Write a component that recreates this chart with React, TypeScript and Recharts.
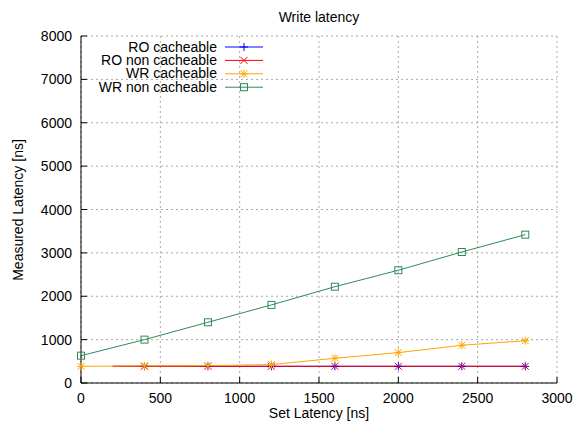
import { LineChart, Line, CartesianGrid, XAxis, YAxis, Legend } from 'recharts';

const xTicks = [0, 500, 1000, 1500, 2000, 2500, 3000];
const yTicks = [0, 1000, 2000, 3000, 4000, 5000, 6000, 7000, 8000];

const roLatency = [200, 400, 800, 1200, 1600, 2000, 2400, 2800];
const roCacheable = [385, 385, 385, 385, 385, 385, 385, 385];
const roNonCacheable = [385, 385, 385, 385, 385, 385, 385, 385];

const wrLatency = [0, 400, 800, 1200, 1600, 2000, 2400, 2800];
const wrCacheable = [385, 395, 400, 425, 570, 700, 870, 975];
const wrNonCacheable = [630, 1000, 1400, 1800, 2220, 2600, 3020, 3420];

const toPoints = (xs: number[], ys: number[]) => xs.map((x, i) => ({ x, y: ys[i] }));

const series = [
  { name: 'RO cacheable', color: '#0000ff', shape: 'plus', data: toPoints(roLatency, roCacheable) },
  { name: 'RO non cacheable', color: '#ff0000', shape: 'cross', data: toPoints(roLatency, roNonCacheable) },
  { name: 'WR cacheable', color: '#ffa500', shape: 'star', data: toPoints(wrLatency, wrCacheable) },
  { name: 'WR non cacheable', color: '#2e8b57', shape: 'square', data: toPoints(wrLatency, wrNonCacheable) }
];

const font = '"Liberation Sans", Arial, sans-serif';

function Marker({ shape, color, cx, cy }: any) {
  const r = 3.5;
  const plus = (
    <>
      <line x1={cx - r - 0.5} y1={cy} x2={cx + r + 0.5} y2={cy} stroke={color} />
      <line x1={cx} y1={cy - r - 0.5} x2={cx} y2={cy + r + 0.5} stroke={color} />
    </>
  );
  const cross = (
    <>
      <line x1={cx - r} y1={cy - r} x2={cx + r} y2={cy + r} stroke={color} />
      <line x1={cx - r} y1={cy + r} x2={cx + r} y2={cy - r} stroke={color} />
    </>
  );
  if (shape === 'plus') return <g>{plus}</g>;
  if (shape === 'cross') return <g>{cross}</g>;
  if (shape === 'star') return <g>{plus}{cross}</g>;
  return <rect x={cx - r} y={cy - r} width={r * 2} height={r * 2} fill="none" stroke={color} />;
}

const makeDot = (shape: string, color: string) => (props: any) => {
  const { cx, cy, payload, index } = props;
  // the first RO point (200) has no marker in the original
  if (payload.x % 400 !== 0) return <g key={index} />;
  return (
    <g key={index}>
      <Marker shape={shape} color={color} cx={cx} cy={cy} />
    </g>
  );
};

function BottomTick({ x, y, payload }: any) {
  return (
    <g>
      <line x1={x} y1={y} x2={x} y2={y - 6} stroke="#000" />
      <text x={x} y={y + 20} textAnchor="middle" fontSize={14} fontFamily={font} fill="#000">
        {payload.value}
      </text>
    </g>
  );
}

function TopTick({ x, y }: any) {
  return <line x1={x} y1={y} x2={x} y2={y + 6} stroke="#000" />;
}

function LeftTick({ x, y, payload }: any) {
  return (
    <g>
      <line x1={x} y1={y} x2={x + 6} y2={y} stroke="#000" />
      <text x={x - 9} y={y + 5} textAnchor="end" fontSize={14} fontFamily={font} fill="#000">
        {payload.value}
      </text>
    </g>
  );
}

function RightTick({ x, y }: any) {
  return <line x1={x} y1={y} x2={x - 6} y2={y} stroke="#000" />;
}

function LegendBox() {
  return (
    <svg width={190} height={56} style={{ display: 'block', overflow: 'visible' }}>
      {series.map((s, i) => {
        const cy = 8 + i * 13.4;
        return (
          <g key={s.name}>
            <text x={127} y={cy + 4.5} textAnchor="end" fontSize={14} fontFamily={font} fill="#000">
              {s.name}
            </text>
            <line x1={135} y1={cy} x2={173} y2={cy} stroke={s.color} />
            <Marker shape={s.shape} color={s.color} cx={154} cy={cy} />
          </g>
        );
      })}
    </svg>
  );
}

export default function App() {
  return (
    <div style={wrap}>
      <div style={title}>Write latency</div>
      <LineChart width={576} height={426} margin={{ top: 36, right: 19, bottom: 13, left: 21 }}>
        <CartesianGrid stroke="#a8a8a8" strokeDasharray="2 3" />
        <XAxis
          type="number"
          dataKey="x"
          domain={[0, 3000]}
          ticks={xTicks}
          height={30}
          tickSize={0}
          tickMargin={0}
          tickLine={false}
          tick={<BottomTick />}
          axisLine={{ stroke: '#000' }}
        />
        <XAxis
          xAxisId="top"
          orientation="top"
          type="number"
          dataKey="x"
          domain={[0, 3000]}
          ticks={xTicks}
          height={0}
          tickSize={0}
          tickMargin={0}
          tickLine={false}
          tick={<TopTick />}
          axisLine={{ stroke: '#000' }}
        />
        <YAxis
          type="number"
          domain={[0, 8000]}
          ticks={yTicks}
          width={60}
          tickSize={0}
          tickMargin={0}
          tickLine={false}
          tick={<LeftTick />}
          axisLine={{ stroke: '#000' }}
        />
        <YAxis
          yAxisId="right"
          orientation="right"
          type="number"
          domain={[0, 8000]}
          ticks={yTicks}
          width={0}
          tickSize={0}
          tickMargin={0}
          tickLine={false}
          tick={<RightTick />}
          axisLine={{ stroke: '#000' }}
        />
        <Legend
          layout="vertical"
          align="center"
          verticalAlign="middle"
          content={() => <LegendBox />}
          wrapperStyle={{ top: 39, left: 90, width: 190 }}
        />
        {series.map((s) => (
          <Line
            key={s.name}
            data={s.data}
            dataKey="y"
            name={s.name}
            type="linear"
            stroke={s.color}
            strokeWidth={1}
            dot={makeDot(s.shape, s.color)}
            activeDot={false}
            isAnimationActive={false}
          />
        ))}
      </LineChart>
      <div style={yLabel}>Measured Latency [ns]</div>
      <div style={xLabel}>Set Latency [ns]</div>
    </div>
  );
}

const wrap = {
  position: 'absolute' as const,
  left: 0,
  top: 0,
  width: 576,
  height: 426,
  background: '#fff',
  fontFamily: font
};

const title = {
  position: 'absolute' as const,
  left: 81,
  top: 9,
  width: 476,
  textAlign: 'center' as const,
  fontSize: 14,
  lineHeight: '16px',
  color: '#000'
};

const yLabel = {
  position: 'absolute' as const,
  left: 18,
  top: 210,
  transform: 'translate(-50%, -50%) rotate(-90deg)',
  whiteSpace: 'nowrap' as const,
  fontSize: 14,
  color: '#000'
};

const xLabel = {
  position: 'absolute' as const,
  left: 81,
  top: 405,
  width: 476,
  textAlign: 'center' as const,
  fontSize: 14,
  lineHeight: '16px',
  color: '#000'
};
